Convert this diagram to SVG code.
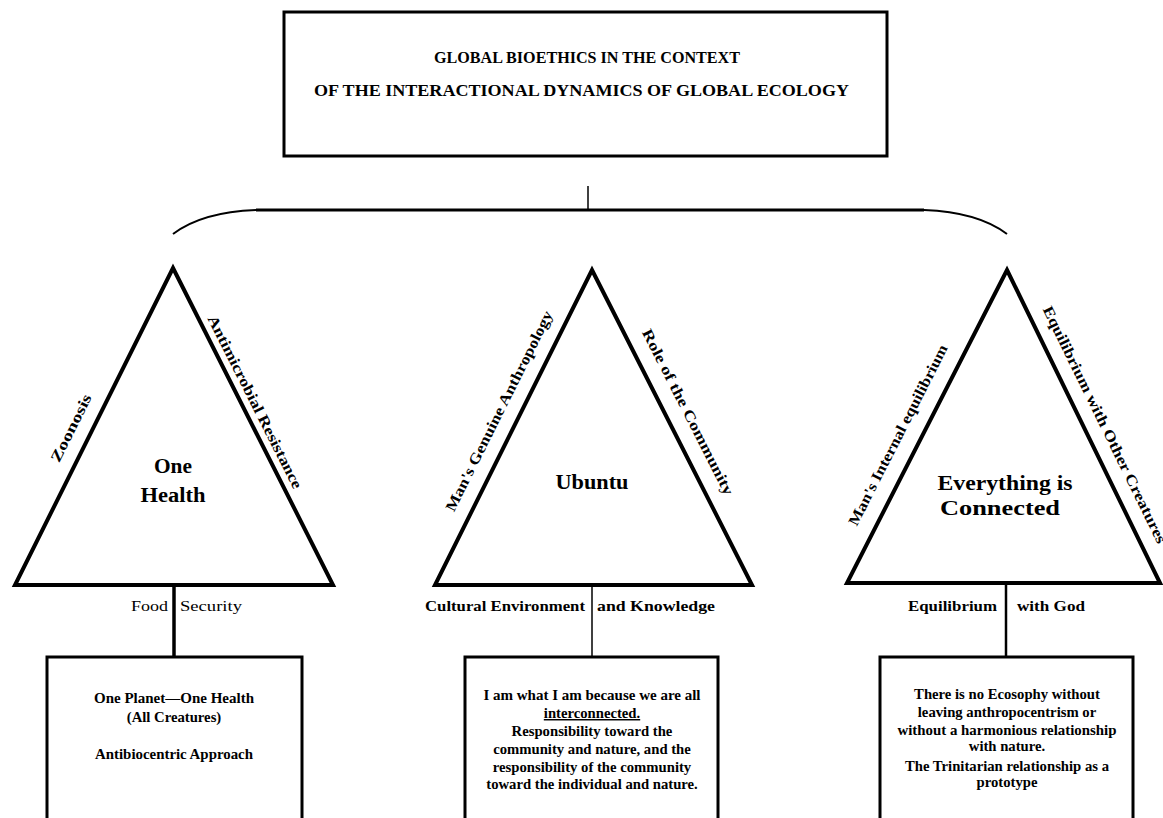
<svg xmlns="http://www.w3.org/2000/svg" width="1163" height="818" viewBox="0 0 1163 818">
<style>
text{font-family:"Liberation Serif","Times New Roman",serif;font-weight:bold;fill:#000}
.title{font-size:16.5px}
.center{font-size:20px;text-anchor:middle}
.side{font-size:15px;text-anchor:middle}
.base{font-size:15px}
.reg{font-weight:normal}
.box text{font-size:14.7px;text-anchor:middle}
.tri{fill:#fff;stroke:#000;stroke-width:4;stroke-linejoin:miter}
.rect{fill:#fff;stroke:#000;stroke-width:3}
.conn{fill:none;stroke:#000}
</style>
<rect width="1163" height="818" fill="#fff"/>

<g id="title">
<rect class="rect" x="284" y="12" width="603" height="144"/>
<text class="title" x="587" y="63" text-anchor="middle" textLength="306" lengthAdjust="spacingAndGlyphs">GLOBAL BIOETHICS IN THE CONTEXT</text>
<text class="title" x="581.5" y="96" text-anchor="middle" textLength="535" lengthAdjust="spacingAndGlyphs">OF THE INTERACTIONAL DYNAMICS OF GLOBAL ECOLOGY</text>
</g>

<g id="connectors">
<line class="conn" x1="588" y1="186" x2="588" y2="210" stroke-width="1.5"/>
<line class="conn" x1="256" y1="210" x2="924" y2="210" stroke-width="3"/>
<path class="conn" d="M173,234 Q202,212 256,210" stroke-width="2"/>
<path class="conn" d="M924,210 Q978,212 1007,234" stroke-width="2"/>
<line class="conn" x1="174" y1="527" x2="174" y2="657" stroke-width="3"/>
<line class="conn" x1="592" y1="518" x2="592" y2="657" stroke-width="1.5"/>
<line class="conn" x1="1006" y1="525" x2="1006" y2="657" stroke-width="2.5"/>
</g>

<g id="one-health">
<polygon class="tri" points="173,268 333,585 15,585"/>
<text class="center" x="173" y="473" textLength="38" lengthAdjust="spacingAndGlyphs">One</text>
<text class="center" x="173" y="502" textLength="65" lengthAdjust="spacingAndGlyphs">Health</text>
<text class="side" transform="translate(71,428) rotate(-63.5)" y="5" textLength="74" lengthAdjust="spacingAndGlyphs">Zoonosis</text>
<text class="side" transform="translate(255,402) rotate(63.2)" y="5" textLength="192" lengthAdjust="spacingAndGlyphs">Antimicrobial Resistance</text>
<line class="conn" x1="174" y1="585" x2="174" y2="657" stroke-width="3"/>
<text class="base reg" x="168" y="611" text-anchor="end" textLength="37" lengthAdjust="spacingAndGlyphs">Food</text>
<text class="base reg" x="180" y="611" textLength="62" lengthAdjust="spacingAndGlyphs">Security</text>
</g>

<g id="ubuntu">
<polygon class="tri" points="592,270 752,585 435,585"/>
<text class="center" x="592" y="489" textLength="73" lengthAdjust="spacingAndGlyphs">Ubuntu</text>
<text class="side" transform="translate(499,411) rotate(-63.5)" y="5" textLength="222" lengthAdjust="spacingAndGlyphs">Man's Genuine Anthropology</text>
<text class="side" transform="translate(688,412) rotate(63)" y="5" textLength="184" lengthAdjust="spacingAndGlyphs">Role of the Community</text>
<text class="base" x="585" y="611" text-anchor="end" textLength="160" lengthAdjust="spacingAndGlyphs">Cultural Environment</text>
<text class="base" x="597" y="611" textLength="118" lengthAdjust="spacingAndGlyphs">and Knowledge</text>
</g>

<g id="everything-connected">
<polygon class="tri" points="1007,270 1160,583 847,583"/>
<text class="center" x="1005" y="490" textLength="135" lengthAdjust="spacingAndGlyphs">Everything is</text>
<text class="center" x="1000" y="515" textLength="120" lengthAdjust="spacingAndGlyphs">Connected</text>
<text class="side" transform="translate(898,435) rotate(-63)" y="5" textLength="201" lengthAdjust="spacingAndGlyphs">Man's Internal equilibrium</text>
<text class="side" transform="translate(1047,307) rotate(63.9)" y="5" style="text-anchor:start" textLength="262" lengthAdjust="spacingAndGlyphs">Equilibrium with Other Creatures</text>
<text class="base" x="997" y="611" text-anchor="end" textLength="89" lengthAdjust="spacingAndGlyphs">Equilibrium</text>
<text class="base" x="1017" y="611" textLength="68" lengthAdjust="spacingAndGlyphs">with God</text>
</g>

<g id="box-one-health" class="box">
<rect class="rect" x="47" y="657" width="255" height="180"/>
<text x="174" y="703" textLength="160" lengthAdjust="spacingAndGlyphs">One Planet—One Health</text>
<text x="174" y="722">(All Creatures)</text>
<text x="174" y="759" textLength="158" lengthAdjust="spacingAndGlyphs">Antibiocentric Approach</text>
</g>

<g id="box-ubuntu" class="box">
<rect class="rect" x="465" y="657" width="253" height="180"/>
<text x="592" y="700" textLength="217" lengthAdjust="spacingAndGlyphs">I am what I am because we are all</text>
<text x="592" y="718" text-decoration="underline">interconnected.</text>
<text x="592" y="736">Responsibility toward the</text>
<text x="592" y="754">community and nature, and the</text>
<text x="592" y="772">responsibility of the community</text>
<text x="592" y="789">toward the individual and nature.</text>
</g>

<g id="box-everything" class="box">
<rect class="rect" x="880" y="657" width="253" height="180"/>
<text x="1007" y="699">There is no Ecosophy without</text>
<text x="1007" y="717">leaving anthropocentrism or</text>
<text x="1007" y="735" textLength="219" lengthAdjust="spacingAndGlyphs">without a harmonious relationship</text>
<text x="1007" y="751">with nature.</text>
<text x="1007" y="771">The Trinitarian relationship as a</text>
<text x="1007" y="787">prototype</text>
</g>
</svg>
